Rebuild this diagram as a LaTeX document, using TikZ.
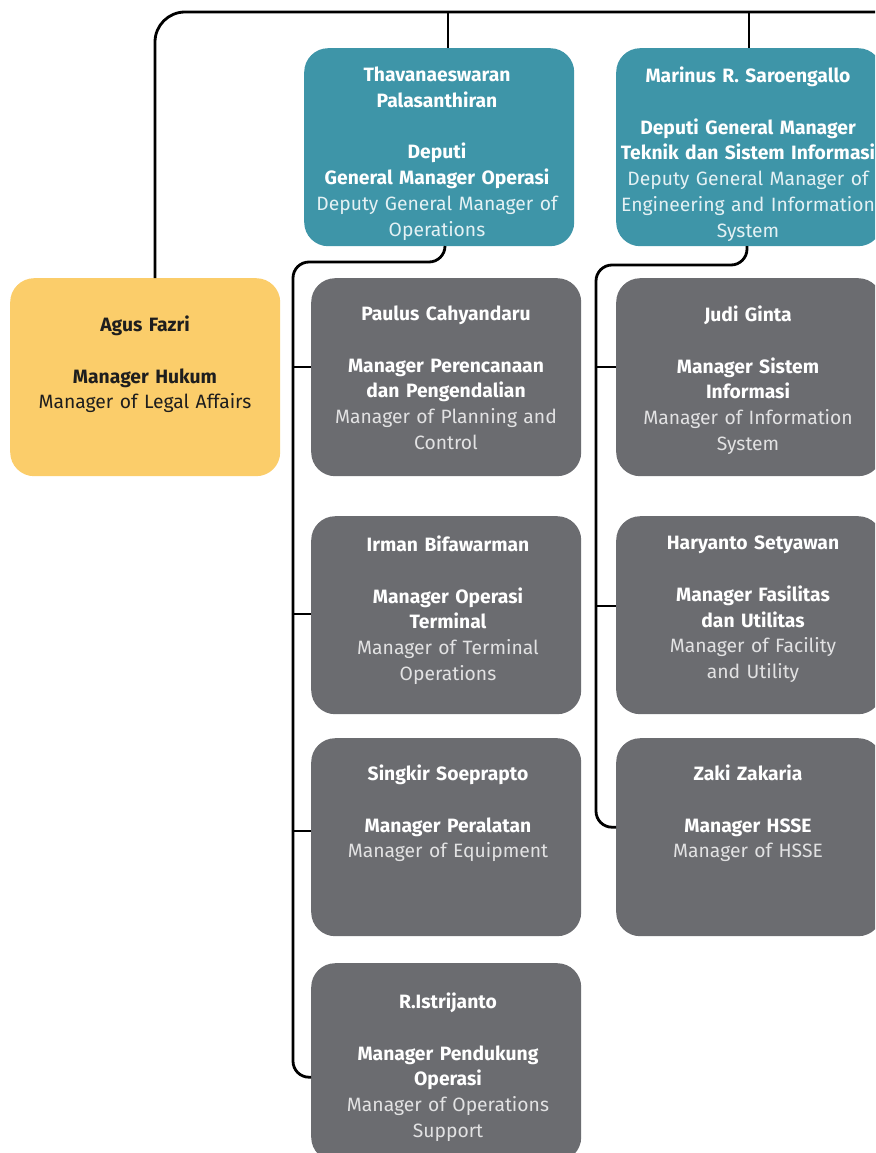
\documentclass[tikz,border=0pt]{standalone}
\usepackage{fontspec}
\setmainfont{Fira Sans}
\definecolor{teal1}{HTML}{3E95A8}
\definecolor{gray1}{HTML}{6B6C70}
\definecolor{yel1}{HTML}{FBCD6A}
\definecolor{tealtxt}{HTML}{E4F1F4}
\definecolor{graytxt}{HTML}{E2E2E3}
\definecolor{yeltxt}{HTML}{1E1E1E}
\begin{document}
\begin{tikzpicture}[x=1pt,y=-1pt,
  box/.style={rounded corners=24pt, minimum width=270pt, minimum height=198pt, inner sep=0pt, anchor=north west},
  tealbox/.style={box, fill=teal1},
  graybox/.style={box, fill=gray1},
  yelbox/.style={box, fill=yel1},
  txt/.style={anchor=north, align=center, text width=320pt, inner sep=0pt, font=\fontsize{19.3}{25.7}\selectfont},
  conn/.style={draw=black, line width=2.8pt, rounded corners=16pt}
]
\useasboundingbox (0,0) rectangle (875,1153);
\clip (0,0) rectangle (875,1153);

% boxes
\node[tealbox] (t1) at (304,48) {};
\node[tealbox, minimum width=266pt] (t2) at (616,48) {};
\node[yelbox] (y1) at (10,278) {};
\node[graybox] (g1) at (311,278) {};
\node[graybox] (g2) at (311,516) {};
\node[graybox] (g3) at (311,738) {};
\node[graybox] (g4) at (311,963) {};
\node[graybox, minimum width=266pt] (h1) at (616,278) {};
\node[graybox, minimum width=266pt] (h2) at (616,516) {};
\node[graybox, minimum width=266pt] (h3) at (616,738) {};

% connectors
\coordinate (topright) at (890,12);
\draw[conn, rounded corners=30pt] (y1.north -| 155,0) |- (topright);
\coordinate (d1) at (448,12);
\draw[conn] (d1) -- (d1 |- t1.north);
\coordinate (d2) at (749,12);
\draw[conn] (d2) -- (d2 |- t2.north);

\coordinate (c1) at (445,246);
\coordinate (tr1) at (293,262);
\draw[conn] (c1) |- (tr1) |- ([yshift=-15pt]g4.west);
\draw[conn, rounded corners=0pt] (tr1 |- 0,367) -- (g1.west |- 0,367);
\draw[conn, rounded corners=0pt] (tr1 |- 0,614) -- (g2.west |- 0,614);
\draw[conn, rounded corners=0pt] (tr1 |- 0,831) -- (g3.west |- 0,831);

\coordinate (c2) at (747,246);
\coordinate (tr2) at (596,265);
\draw[conn] (c2) |- (tr2) |- ([yshift=10pt]h3.west);
\draw[conn, rounded corners=0pt] (tr2 |- 0,367) -- (h1.west |- 0,367);
\draw[conn, rounded corners=0pt] (tr2 |- 0,606) -- (h2.west |- 0,606);

% texts
\node[txt] (tt1) at (437,67) {\color{white}\bfseries Thavanaeswaran\\Palasanthiran\\[25.7pt]Deputi\\General Manager Operasi\\
  \color{tealtxt}\mdseries Deputy General Manager of\\Operations};
\node[txt] (tt2) at (748,67) {\color{white}\bfseries Marinus R. Saroengallo\\[25.7pt]Deputi General Manager\\Teknik dan Sistem Informasi\\
  \color{tealtxt}\mdseries Deputy General Manager of\\Engineering and Information\\System};
\node[txt] (ty1) at (145,316) {\color{yeltxt}\bfseries Agus Fazri\\[25.7pt]Manager Hukum\\\mdseries Manager of Legal Affairs};

\node[txt] (tg1) at (446,306) {\color{white}\bfseries Paulus Cahyandaru\\[25.7pt]Manager Perencanaan\\dan Pengendalian\\
  \color{graytxt}\mdseries Manager of Planning and\\Control};
\node[txt] (tg2) at (448,536) {\color{white}\bfseries Irman Bifawarman\\[25.7pt]Manager Operasi\\Terminal\\
  \color{graytxt}\mdseries Manager of Terminal\\Operations};
\node[txt] (tg3) at (448,765) {\color{white}\bfseries Singkir Soeprapto\\[25.7pt]Manager Peralatan\\
  \color{graytxt}\mdseries Manager of Equipment};
\node[txt] (tg4) at (448,993) {\color{white}\bfseries R.Istrijanto\\[25.7pt]Manager Pendukung\\Operasi\\
  \color{graytxt}\mdseries Manager of Operations\\Support};

\node[txt] (th1) at (748,306) {\color{white}\bfseries Judi Ginta\\[25.7pt]Manager Sistem\\Informasi\\
  \color{graytxt}\mdseries Manager of Information\\System};
\node[txt] (th2) at (753,536) {\color{white}\bfseries Haryanto Setyawan\\[25.7pt]Manager Fasilitas\\dan Utilitas\\
  \color{graytxt}\mdseries Manager of Facility\\and Utility};
\node[txt] (th3) at (748,765) {\color{white}\bfseries Zaki Zakaria\\[25.7pt]Manager HSSE\\
  \color{graytxt}\mdseries Manager of HSSE};
\end{tikzpicture}
\end{document}
